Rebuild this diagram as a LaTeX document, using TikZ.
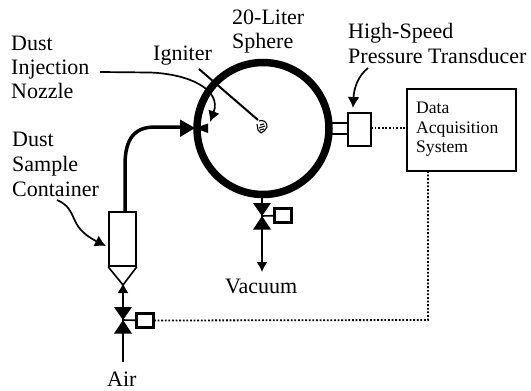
\documentclass[tikz,border=0pt]{standalone}
\usepackage{fontspec}
\setmainfont{Liberation Serif}
\usetikzlibrary{arrows.meta}
\tikzstyle{lbl} = [inner sep=0pt, anchor=base west, font=\fontsize{22}{24.6}\selectfont]
\tikzstyle{small} = [inner sep=0pt, anchor=base west, font=\fontsize{17.6}{19.6}\selectfont]
\tikzstyle{ctrl} = [draw, line width=2.8pt, minimum width=17.5pt, minimum height=14.5pt, inner sep=0pt]
\tikzstyle{signal} = [line width=1.8pt, dash pattern=on 1.8pt off 1.8pt]
\tikzstyle{callout} = [line width=1.7pt, -{Latex[length=11pt,width=12pt]}]
\begin{document}
\begin{tikzpicture}[x=1pt,y=-1pt]
\useasboundingbox (0,0) rectangle (531,391);

% texts
\node[lbl] (sphtop) at (232,24) {20-Liter};
\node[lbl] (sphbot) at (232,48) {Sphere};
\node[lbl] (ign) at (153,60) {Igniter};
\node[lbl] (noz1) at (11,50) {Dust};
\node[lbl] (noz2) at (11,74) {Injection};
\node[lbl] (noz3) at (11,98) {Nozzle};
\node[lbl] (cont1) at (12,146) {Dust};
\node[lbl] (cont2) at (12,171) {Sample};
\node[lbl] (cont3) at (12,196) {Container};
\node[lbl] (hs1) at (348,38) {High-Speed};
\node[lbl] (hs2) at (348,63) {Pressure Transducer};
\node[lbl] (vac) at (225,293) {Vacuum};
\node[lbl] (air) at (107,386) {Air};

% sphere
\draw[line width=7.5pt] (263,128.5) circle[radius=66];

% igniter
\coordinate (ignA) at (199,69);
\coordinate (ignB) at (258,120);
\draw[line width=2pt] (ignA) -- (ignB);
\node[circle, minimum size=11pt, inner sep=0pt] (tip) at (262,126) {};
\draw[line width=1.1pt] (259,121) .. controls (262,119) and (268,122) .. (267,127) .. controls (266,130) and (263,132) .. (261,133)
    (257,124) -- (258,130) -- (261,133) (260,125) -- (264,124) (259,128) -- (265,126) (260,130) -- (264,129);

% nozzle
\coordinate (boxtop) at (125,212);
\coordinate (nozl) at (181,127);
\draw[line width=3.5pt] (boxtop) -- (125,165) .. controls (125,138) and (135,127) .. (155,127) -- (nozl);
\fill (180,119.5) -- (195,128) -- (180,137) -- cycle;
\fill (195,128) -- (208,123.5) -- (208,133) -- cycle;

% callouts
\coordinate (a1) at (100,72);
\coordinate (a2) at (210,122);
\draw[callout] (a1) -- (150,72.5) .. controls (190,74) and (222,90) .. (a2);
\coordinate (b1) at (368,68);
\coordinate (b2) at (353,108);
\draw[callout] (b1) .. controls (358,76) and (354,88) .. (b2);
\coordinate (c1) at (57,200);
\coordinate (c2) at (106,246);
\draw[callout] (c1) .. controls (80,210) and (66,226) .. (c2);

% container
\node[draw, line width=1.6pt, minimum width=27pt, minimum height=54pt, inner sep=0pt] (dust) at (122.5,239) {};
\draw[line width=1.6pt] (dust.south west) -- (123,285) -- (dust.south east);

% valves
\foreach \n/\x/\y in {a/123/320, b/262/216} {
    \coordinate (v\n) at (\x,\y);
    \fill (\x-9,\y-13) -- (\x+9,\y-13) -- (\x,\y) -- cycle;
    \fill (\x-9,\y+13.5) -- (\x+9,\y+13.5) -- (\x,\y) -- cycle;
}
\node[ctrl] (boxa) at (145,320.5) {};
\node[ctrl] (boxb) at (283,215.5) {};
\draw[line width=1.6pt] (va) -- (boxa);
\draw[line width=1.6pt] (vb) -- (boxb);

% lines at the valves
\coordinate (airin) at (123,362);
\coordinate (vacout) at (262,272);
\coordinate (sphb) at (262,198);
\coordinate (dustb) at (123,283);
\draw[line width=1.6pt] (va) -- (airin);
\draw[line width=1.6pt, -{Latex[length=10pt,width=11pt]}] (va) -- (dustb);
\draw[line width=1.6pt] (sphb) -- (vb);
\draw[line width=1.6pt, -{Latex[length=10pt,width=11pt]}] (vb) -- (vacout);

% transducer and data box
\node[draw, line width=1.6pt, minimum width=23pt, minimum height=33pt, inner sep=0pt] (trans) at (359.5,129.5) {};
\draw[line width=1.6pt] (332,123) -- (348,123) (332,134) -- (348,134);
\node[draw, line width=1.6pt, minimum width=109pt, minimum height=82pt, inner sep=0pt] (daq) at (461.5,130) {};
\node[small] (d1) at (416,113) {Data};
\node[small] (d2) at (416,133) {Acquisition};
\node[small] (d3) at (416,152) {System};

\coordinate (tr) at (371,128);
\draw[signal] (tr) -- (tr -| daq.west);
\coordinate (dq) at (428,171);
\draw[signal] (dq) -- (428,320) -- (boxa.east);
\end{tikzpicture}
\end{document}
